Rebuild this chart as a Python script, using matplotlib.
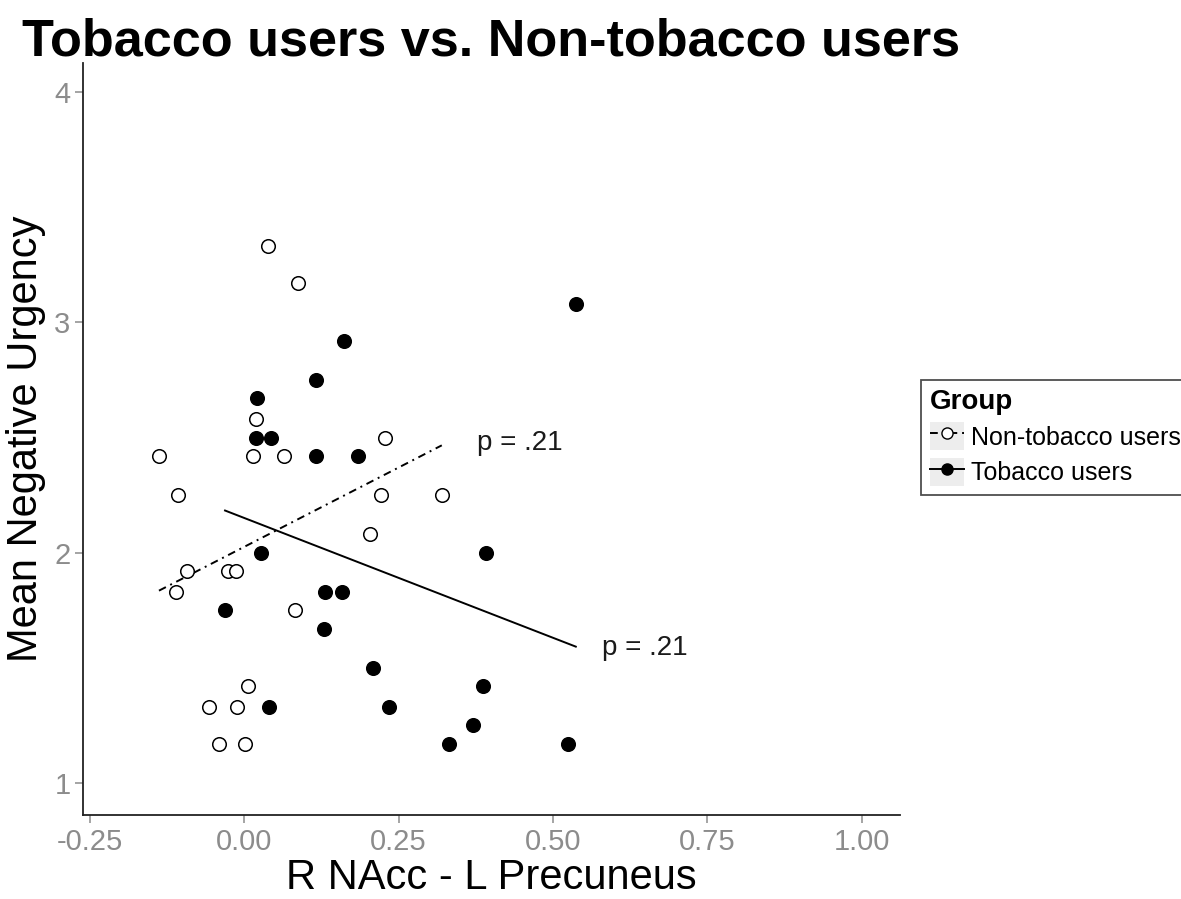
import numpy as np
import matplotlib
matplotlib.use("Agg")
import matplotlib.pyplot as plt
from matplotlib.lines import Line2D
from matplotlib.patches import Patch
from matplotlib.legend_handler import HandlerTuple

plt.rcParams["font.family"] = ["Liberation Sans", "DejaVu Sans"]

# Non-tobacco users
non_x = [0.039, 0.087, 0.019, 0.228, -0.138, 0.015, 0.064, -0.107, 0.222, 0.320,
         0.203, -0.093, -0.026, -0.014, -0.110, 0.082, 0.006, -0.057, -0.011,
         -0.041, 0.002]
non_y = [3.33, 3.17, 2.58, 2.50, 2.42, 2.42, 2.42, 2.25, 2.25, 2.25,
         2.08, 1.92, 1.92, 1.92, 1.83, 1.75, 1.42, 1.33, 1.33,
         1.17, 1.17]

# Tobacco users
tob_x = [0.537, 0.161, 0.117, 0.021, 0.019, 0.043, 0.117, 0.185, 0.027, 0.392,
         0.131, 0.159, -0.031, 0.129, 0.209, 0.386, 0.041, 0.234, 0.370,
         0.331, 0.525]
tob_y = [3.08, 2.92, 2.75, 2.67, 2.50, 2.50, 2.42, 2.42, 2.00, 2.00,
         1.83, 1.83, 1.75, 1.67, 1.50, 1.42, 1.33, 1.33, 1.25,
         1.17, 1.17]

# fitted lines (value at each group's min and max x)
non_fit_y = [1.835, 2.466]
tob_fit_y = [2.183, 1.592]

p_labels = ["p = .21", "p = .21"]
p_pos_x = [0.377, 0.579]
p_pos_y = [2.476, 1.586]

xticks = [-0.25, 0.00, 0.25, 0.50, 0.75, 1.00]
yticks = [1, 2, 3, 4]

W, H = 1181, 899
fig = plt.figure(figsize=(W / 100, H / 100), dpi=100)
ax = fig.add_axes([83 / W, 1 - 815 / H, (900 - 83) / W, (815 - 63) / H])

lw = 1.4
dotdash = (0, (4, 2.5, 1, 2.5))

ax.plot([min(non_x), max(non_x)], non_fit_y, color="black", lw=lw,
        linestyle=dotdash, zorder=2)
ax.plot([min(tob_x), max(tob_x)], tob_fit_y, color="black", lw=lw,
        linestyle="-", zorder=2)

ax.scatter(non_x, non_y, s=95, facecolor="white", edgecolor="black",
           linewidth=1.1, zorder=3)
ax.scatter(tob_x, tob_y, s=95, facecolor="black", edgecolor="black",
           linewidth=1.1, zorder=3)

for px, py, lab in zip(p_pos_x, p_pos_y, p_labels):
    ax.text(px, py, lab, fontsize=20, color="#1a1a1a", ha="left", va="center")

ax.set_xlim(-0.261, 1.062)
ax.set_ylim(0.861, 4.126)
ax.set_xticks(xticks)
ax.set_xticklabels([f"{t:.2f}" for t in xticks])
ax.set_yticks(yticks)
ax.set_yticklabels([str(t) for t in yticks])

for side in ["top", "right"]:
    ax.spines[side].set_visible(False)
for side in ["left", "bottom"]:
    ax.spines[side].set_linewidth(1.3)
    ax.spines[side].set_color("#222222")

ax.tick_params(axis="both", colors="#8c8c8c", labelsize=21, length=6,
               width=1.1, pad=3)
ax.set_xlabel("R NAcc - L Precuneus", fontsize=30, labelpad=2)
ax.set_ylabel("Mean Negative Urgency", fontsize=30, labelpad=6)

fig.text(22 / W, 1 - 55 / H, "Tobacco users vs. Non-tobacco users",
         fontsize=37.6, fontweight="bold", ha="left", va="baseline")

key_bg = "#EDEDED"
handles = [
    (Patch(facecolor=key_bg, edgecolor="none"),
     Line2D([], [], color="black", lw=lw, linestyle=dotdash, marker="o",
            markersize=8, markerfacecolor="white", markeredgecolor="black")),
    (Patch(facecolor=key_bg, edgecolor="none"),
     Line2D([], [], color="black", lw=lw, linestyle="-", marker="o",
            markersize=8, markerfacecolor="black", markeredgecolor="black")),
]
leg = fig.legend(handles, ["Non-tobacco users", "Tobacco users"],
                 handler_map={tuple: HandlerTuple(ndivide=1, pad=0)},
                 title="Group", loc="upper left",
                 bbox_to_anchor=(921 / W, 1 - 380 / H),
                 fontsize=18, title_fontproperties={"weight": "bold", "size": 20},
                 frameon=True, fancybox=False, edgecolor="#222222",
                 handlelength=1.35, handleheight=1.35, handletextpad=0.3,
                 borderpad=0.35, labelspacing=0.3, borderaxespad=0)
leg._legend_box.align = "left"
leg.get_frame().set_linewidth(1.3)

fig.savefig("out.png", dpi=100)
